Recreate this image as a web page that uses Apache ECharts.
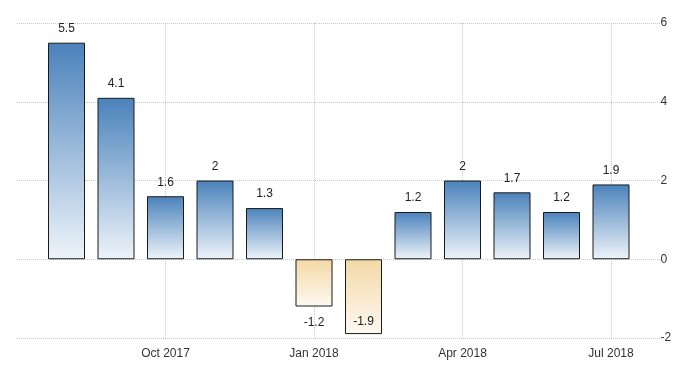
<!DOCTYPE html>
<html>
<head>
<meta charset="utf-8">
<script src="https://cdn.jsdelivr.net/npm/echarts@6/dist/echarts.min.js"></script>
<style>html,body{margin:0;padding:0;background:#fff}#c{width:700px;height:375px}</style>
</head>
<body>
<div id="c"></div>
<script>
const months = ['Aug 2017','Sep 2017','Oct 2017','Nov 2017','Dec 2017','Jan 2018','Feb 2018','Mar 2018','Apr 2018','May 2018','Jun 2018','Jul 2018'];
const values = [5.5, 4.1, 1.6, 2, 1.3, -1.2, -1.9, 1.2, 2, 1.7, 1.2, 1.9];
const shownLabels = ['Oct 2017','Jan 2018','Apr 2018','Jul 2018'];
const yTicks = [-2, 0, 2, 4, 6];

const font = '"Liberation Sans Narrow", "Liberation Sans", Arial, sans-serif';
const blue = {type:'linear',x:0,y:0,x2:0,y2:1,colorStops:[{offset:0,color:'#4a82bb'},{offset:1,color:'#eef4fa'}]};
const orange = {type:'linear',x:0,y:0,x2:0,y2:1,colorStops:[{offset:0,color:'#f4d8a6'},{offset:1,color:'#fdf9f2'}]};

const data = values.map((v, i) => {
  const d = {value:[i, v], itemStyle:{color: v >= 0 ? blue : orange}};
  if (v < 0) {
    d.label = {position: v < -1.5 ? 'insideBottom' : 'bottom', distance: v < -1.5 ? 6 : 10};
  }
  return d;
});

const chart = echarts.init(document.getElementById('c'));
chart.setOption({
  animation:false,
  grid:{left:17, right:39.5, top:23, bottom:37},
  xAxis:{
    type:'value', min:-1, max:12, interval:3,
    axisLine:{show:false}, axisTick:{show:false},
    splitLine:{show:true, showMinLine:false, showMaxLine:false, lineStyle:{type:'dotted', color:'#c8c8c8'}},
    axisLabel:{
      color:'#333', fontSize:12, fontFamily:font, margin:10,
      formatter:(v)=>{ const m = months[Math.round(v)]; return (m && shownLabels.includes(m)) ? m : ''; }
    }
  },
  yAxis:{
    type:'value', position:'right', min:yTicks[0], max:yTicks[yTicks.length-1], interval:2,
    axisLine:{show:false}, axisTick:{show:false},
    splitLine:{lineStyle:{type:'dotted', color:'#c8c8c8'}},
    axisLabel:{color:'#333', fontSize:12, fontFamily:font, margin:0}
  },
  series:[{
    type:'bar', data:data, barWidth:37,
    itemStyle:{borderColor:'#1a1a1a', borderWidth:1},
    label:{show:true, position:'top', distance:8, color:'#222', fontSize:12, fontFamily:font,
      formatter:(p)=>String(p.value[1])}
  }]
});
</script>
</body>
</html>
